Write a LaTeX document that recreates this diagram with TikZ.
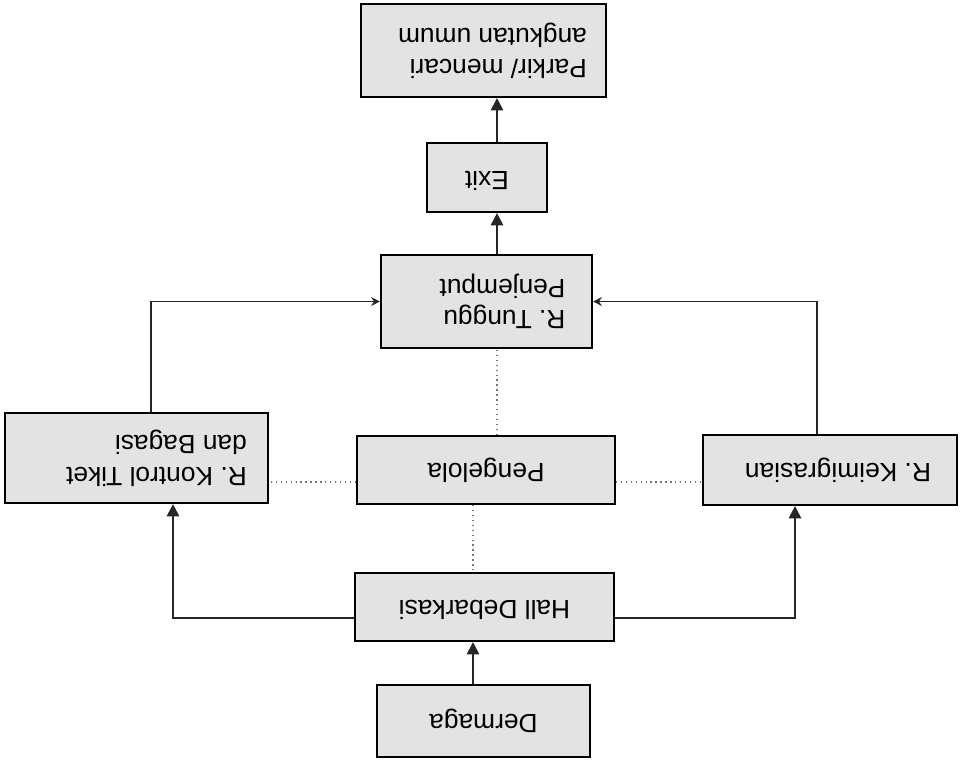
\documentclass[tikz,border=0pt]{standalone}
\usepackage{fontspec}
\setmainfont{Liberation Sans}
\usetikzlibrary{arrows.meta}
% text turned upside down; optional #1 = extra trailing space (moves the block visually right)
\newcommand{\flip}[2][0cm]{\rotatebox[origin=c]{180}{\begin{tabular}{@{}l@{}}#2\end{tabular}\hspace{#1}}}
\begin{document}
\begin{tikzpicture}[x=0.02cm,y=-0.02cm,
  bx/.style n args={2}{draw=black, line width=1.2pt, fill=gray!22, inner sep=0pt,
     minimum width=#1*0.02cm, minimum height=#2*0.02cm,
     font=\fontsize{15}{18}\selectfont},
  conn/.style={draw=black!85, line width=1.1pt},
  arr/.style={conn, -{Triangle[length=7pt,width=7pt]}},
  sarr/.style={conn, -{Stealth[length=5pt,width=5pt]}},
  dot/.style={draw=black!55, line width=0.8pt, dotted}]
\useasboundingbox (0,0) rectangle (961,762);

\node[bx={245}{93}] (parkir) at (483.5,50.5) {\flip[0.36cm]{Parkir/ mencari\\angkutan umum}};
\node[bx={120}{69}] (exit) at (487,177.5) {\flip{Exit}};
\node[bx={211}{93}] (tunggu) at (486.5,301.5) {\flip[0.64cm]{R. Tunggu\\Penjemput}};
\node[bx={263}{90}] (kontrol) at (136.5,458) {\flip[0.8cm]{R. Kontrol Tiket\\dan Bagasi}};
\node[bx={258}{68}] (peng) at (486,470) {\flip{Pengelola}};
\node[bx={254}{70}] (keim) at (830,470) {\flip[0.32cm]{R. Keimigrasian}};
\node[bx={259}{68}] (hall) at (484.5,607) {\flip{Hall Debarkasi}};
\node[bx={213}{72}] (derm) at (483.5,721) {\flip{Dermaga}};

\coordinate (xa) at (473,0);
\coordinate (xb) at (497,0);
\coordinate (xk) at (173,0);
\coordinate (xk2) at (151,0);
\coordinate (xm) at (795,0);
\coordinate (xm2) at (817,0);
\coordinate (yh) at (0,618);
\coordinate (yp) at (0,482);

% main flow
\draw[arr] (xa |- derm.north) -- (xa |- hall.south);
\draw[arr] (hall.west |- yh) -| (xk |- kontrol.south);
\draw[arr] (hall.east |- yh) -| (xm |- keim.south);
\draw[sarr] (xk2 |- kontrol.north) |- (tunggu.west);
\draw[sarr] (xm2 |- keim.north) |- (tunggu.east);
\draw[arr] (xb |- tunggu.north) -- (xb |- exit.south);
\draw[arr] (xb |- exit.north) -- (xb |- parkir.south);

% Pengelola dotted links
\draw[dot] (xb |- peng.north) -- (xb |- tunggu.south);
\draw[dot] (xa |- peng.south) -- (xa |- hall.north);
\draw[dot] (peng.west |- yp) -- (kontrol.east |- yp);
\draw[dot] (peng.east |- yp) -- (keim.west |- yp);
\end{tikzpicture}
\end{document}
